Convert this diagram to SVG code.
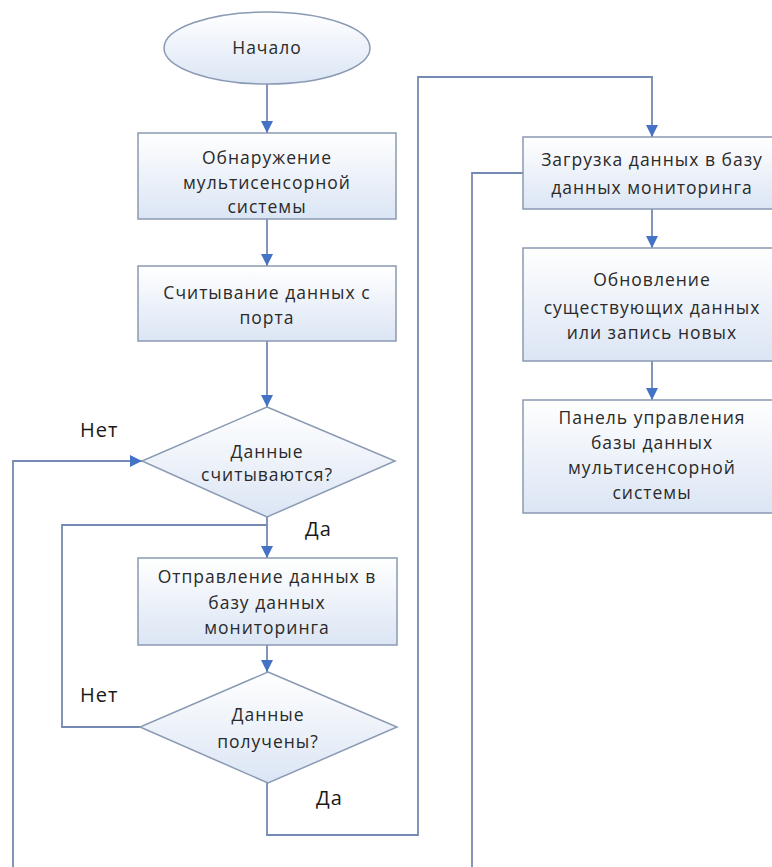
<svg xmlns="http://www.w3.org/2000/svg" width="772" height="867" viewBox="0 0 772 867">
  <defs>
    <linearGradient id="fillGrad" x1="0" y1="0" x2="0" y2="1">
      <stop offset="0" stop-color="#ffffff"/>
      <stop offset="1" stop-color="#dbe5f4"/>
    </linearGradient>
    <marker id="arrow" markerUnits="userSpaceOnUse" markerWidth="14" markerHeight="14" viewBox="0 0 14 14" refX="12" refY="7" orient="auto">
      <path d="M0,1 L12,7 L0,13 Z" fill="#4472c4"/>
    </marker>
    <style>
      .shape { fill: url(#fillGrad); stroke: #8a9ab3; stroke-width: 1.5; }
      .conn { fill: none; stroke: #7489b3; stroke-width: 1.8; }
      .arr { marker-end: url(#arrow); }
      .t { font-family: "Open Sans", "Noto Sans", sans-serif; font-size: 17.5px; letter-spacing: 1px; fill: #2a2a2a; text-anchor: middle; }
      .lbl { font-family: "Open Sans", "Noto Sans", sans-serif; font-size: 20px; letter-spacing: 1px; fill: #1a1a1a; }
    </style>
  </defs>
  <rect x="0" y="0" width="772" height="867" fill="#ffffff"/>

  <g id="connectors">
    <path class="conn arr" d="M267,84 V133"/>
    <path class="conn arr" d="M267,219 V266"/>
    <path class="conn arr" d="M267,341 V407"/>
    <path class="conn arr" d="M267,517 V558"/>
    <path class="conn arr" d="M267,645 V672"/>
    <path class="conn arr" d="M13,867 V461 H142"/>
    <path class="conn" d="M140,727 H62 V525 H267"/>
    <path class="conn arr" d="M267,783 V835 H418 V77 H652 V137"/>
    <path class="conn arr" d="M652,209 V248"/>
    <path class="conn arr" d="M652,361 V400"/>
    <path class="conn" d="M523,173 H472 V867"/>
  </g>

  <g id="start">
    <ellipse class="shape" cx="267" cy="48" rx="103" ry="36"/>
    <text class="t" x="267" y="54">Начало</text>
  </g>

  <g id="detect">
    <rect class="shape" x="138" y="133" width="258" height="86"/>
    <text class="t" x="267" y="164">Обнаружение</text>
    <text class="t" x="267" y="189">мультисенсорной</text>
    <text class="t" x="267" y="213">системы</text>
  </g>

  <g id="read">
    <rect class="shape" x="138" y="266" width="258" height="75"/>
    <text class="t" x="267" y="299">Считывание данных с</text>
    <text class="t" x="267" y="324">порта</text>
  </g>

  <g id="decision1">
    <polygon class="shape" points="267,407 395,461 267,517 142,461"/>
    <text class="t" x="267" y="458">Данные</text>
    <text class="t" x="267" y="481">считываются?</text>
  </g>

  <g id="send">
    <rect class="shape" x="138" y="558" width="259" height="87"/>
    <text class="t" x="267" y="583">Отправление данных в</text>
    <text class="t" x="267" y="609">базу данных</text>
    <text class="t" x="267" y="634">мониторинга</text>
  </g>

  <g id="decision2">
    <polygon class="shape" points="268,672 397,727 268,783 140,727"/>
    <text class="t" x="268" y="721">Данные</text>
    <text class="t" x="268" y="748">получены?</text>
  </g>

  <g id="upload">
    <rect class="shape" x="523" y="137" width="262" height="72"/>
    <text class="t" x="652" y="166">Загрузка данных в базу</text>
    <text class="t" x="652" y="194">данных мониторинга</text>
  </g>

  <g id="update">
    <rect class="shape" x="523" y="248" width="262" height="113"/>
    <text class="t" x="652" y="286">Обновление</text>
    <text class="t" x="652" y="314">существующих данных</text>
    <text class="t" x="652" y="339">или запись новых</text>
  </g>

  <g id="panel">
    <rect class="shape" x="523" y="400" width="262" height="113"/>
    <text class="t" x="652" y="424">Панель управления</text>
    <text class="t" x="652" y="449">базы данных</text>
    <text class="t" x="652" y="474">мультисенсорной</text>
    <text class="t" x="652" y="499">системы</text>
  </g>

  <g id="labels">
    <text class="lbl" x="80" y="437">Нет</text>
    <text class="lbl" x="305" y="536">Да</text>
    <text class="lbl" x="80" y="702">Нет</text>
    <text class="lbl" x="316" y="805">Да</text>
  </g>
</svg>
